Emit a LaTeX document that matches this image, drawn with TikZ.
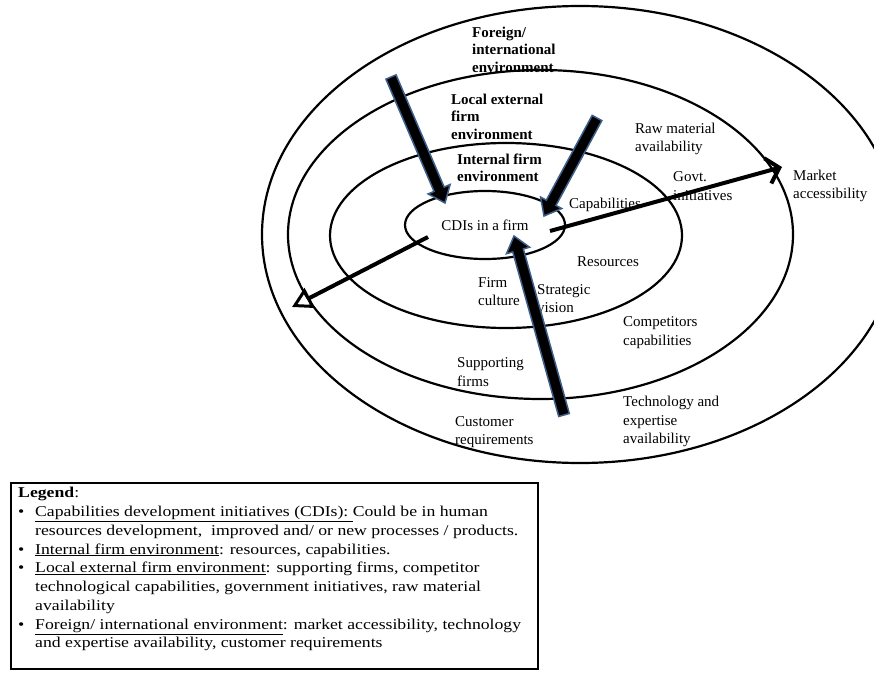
\documentclass[tikz,border=0pt]{standalone}
\usepackage{fontspec}
\setmainfont{Liberation Serif}
\newfontfamily\legendfont[FakeStretch=1.18]{Liberation Serif}
\usetikzlibrary{positioning,calc,shapes.geometric,arrows.meta}
\definecolor{arrowrim}{HTML}{3E5F8A}

% fat arrow from #1 (tail) to #2 (tip)
\newcommand{\blockarrow}[2]{%
  \coordinate (ba-h) at ($(#2)!15pt!(#1)$);
  \filldraw[blockarrow] ($(#1)!5.5pt!90:(#2)$) -- ($(ba-h)!5.5pt!90:(#2)$)
    -- ($(ba-h)!12pt!90:(#2)$) -- (#2) -- ($(ba-h)!12pt!-90:(#2)$)
    -- ($(ba-h)!5.5pt!-90:(#2)$) -- ($(#1)!5.5pt!-90:(#2)$) -- cycle;
}

\begin{document}
\begin{tikzpicture}[x=1pt,y=-1pt,
    ring/.style={ellipse,draw,line width=2.2pt,inner sep=0pt},
    lbl/.style={anchor=west,align=left,inner sep=0pt,font=\fontsize{15}{18.5}\selectfont},
    zone/.style={lbl,font=\fontsize{15}{17.5}\selectfont\bfseries},
    blockarrow/.style={fill=black,draw=arrowrim,line width=1.5pt,line join=miter},
    flow/.style={line width=4pt}]
  \clip (0,0) rectangle (874,687);
  \useasboundingbox (0,0) rectangle (874,687);

  % the four environments
  \node[ring,minimum width=636pt,minimum height=457pt] (foreign) at (580,234.5) {};
  \node[ring,minimum width=505pt,minimum height=329pt] (local) at (540.5,234.5) {};
  \node[ring,minimum width=352pt,minimum height=185pt] (internal) at (506,235.5) {};
  \node[ring,minimum width=160pt,minimum height=68pt,
        font=\fontsize{15}{18}\selectfont] (cdi) at (485,225) {CDIs in a firm};

  % zone titles
  \node[zone] (foreigntitle) at (472,49.5) {Foreign/\\international\\environment};
  \node[zone] (localtitle) at (451,116.5) {Local external\\firm\\environment};
  \node[zone] (internaltitle) at (457,168) {Internal firm\\environment};

  % factors
  \node[lbl] (capab) at (569,205) {Capabilities};
  \node[lbl] (resources) at (577,262) {Resources};
  \node[lbl] (culture) at (478,291.5) {Firm\\culture};
  \node[lbl] (vision) at (537,298.5) {Strategic\\vision};
  \node[lbl] (rawmat) at (635,139) {Raw material\\availability};
  \node[lbl] (govt) at (673,186) {Govt.\\initiatives};
  \node[lbl] (competitors) at (623,332.5) {Competitors\\capabilities};
  \node[lbl] (supporting) at (457,372) {Supporting\\firms};
  \node[lbl] (market) at (793,186) {Market\\accessibility};
  \node[lbl] (techexp) at (623,421.5) {Technology and\\expertise\\availability};
  \node[lbl] (customer) at (455,432) {Customer\\requirements};

  % influences into the firm
  \coordinate (pushA) at (391,77);  \coordinate (hitA) at (445,203);
  \coordinate (pushB) at (597,118); \coordinate (hitB) at (544,216);
  \coordinate (pushC) at (564,415); \coordinate (hitC) at (514,236);
  \blockarrow{pushA}{hitA}
  \blockarrow{pushB}{hitB}
  \blockarrow{pushC}{hitC}

  % outflows
  \coordinate (outR) at (550,231); \coordinate (endR) at (782,167);
  \coordinate (outL) at (428,237); \coordinate (endL) at (292,307);
  \draw[flow,-{Straight Barb[length=12pt,width=26pt]}] (outR) -- (endR);
  \draw[flow,-{Triangle[open,length=20pt,width=22pt,line width=3pt]}] (outL) -- (endL);

  % legend
  \node[draw,line width=1.5pt,anchor=north west,minimum width=527pt,minimum height=186pt]
    (legendbox) at (10,482) {};
  \node[anchor=north west,inner sep=0pt,font=\legendfont\fontsize{15}{18.75}\selectfont]
    (legend) at (18,484.5) {%
    \begin{tabular}{@{}p{17pt}@{}l@{}}
      \multicolumn{2}{@{}l}{\textbf{Legend}:}\\
      \textbullet & \underline{Capabilities development initiatives (CDIs):\ }Could be in human\\
                  & resources development,\ \ improved and/ or new processes / products.\\
      \textbullet & \underline{Internal firm environment}: resources, capabilities.\\
      \textbullet & \underline{Local external firm environment}: supporting firms, competitor\\
                  & technological capabilities, government initiatives, raw material\\
                  & availability\\
      \textbullet & \underline{Foreign/ international environment}: market accessibility, technology\\
                  & and expertise availability, customer requirements
    \end{tabular}};
\end{tikzpicture}
\end{document}
